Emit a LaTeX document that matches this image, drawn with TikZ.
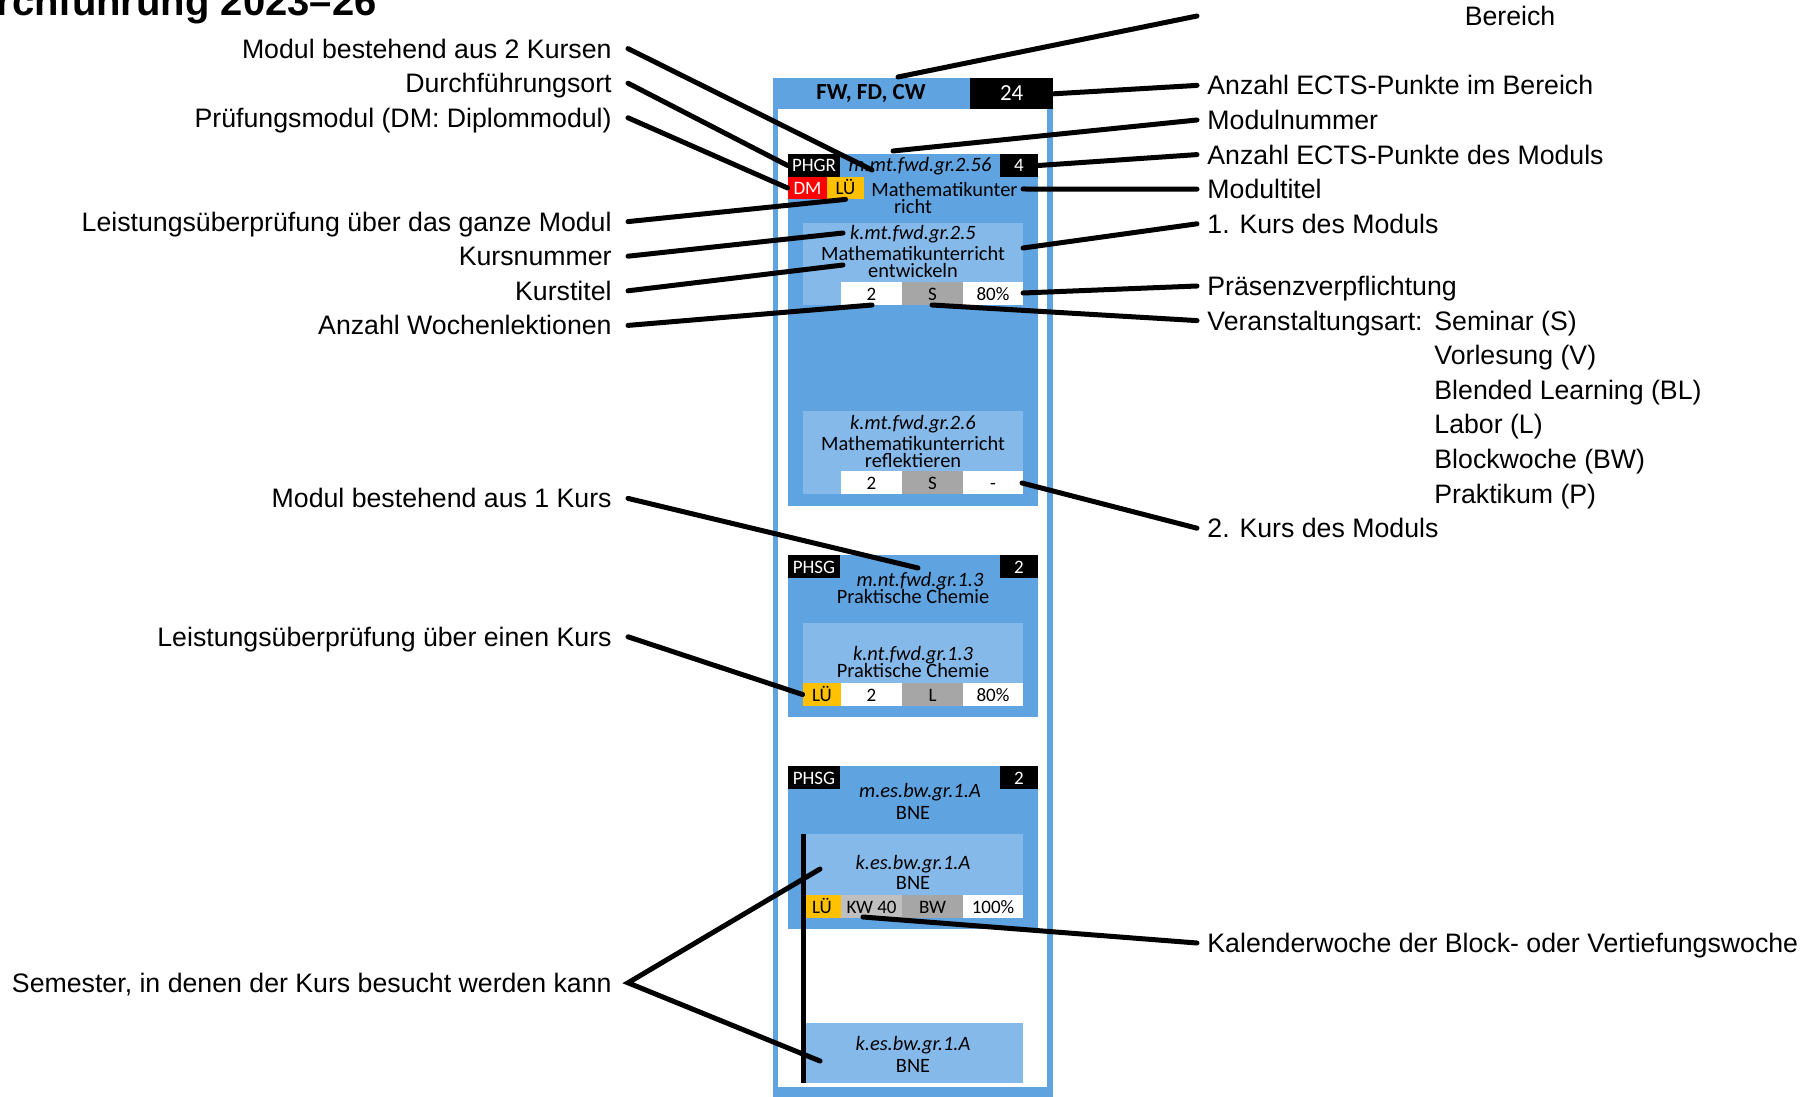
\documentclass[tikz,border=0pt]{standalone}
\usepackage{fontspec}
\setmainfont{Liberation Sans}
\newfontfamily\calibri{Carlito}

\definecolor{modulblau}{RGB}{95,163,224}
\definecolor{kursblau}{RGB}{133,185,234}
\definecolor{grau}{RGB}{166,166,166}
\definecolor{hellgrau}{RGB}{191,191,191}
\definecolor{lueorange}{RGB}{255,192,0}
\definecolor{dmrot}{RGB}{255,0,0}

\tikzset{
  beschr/.style={font=\fontsize{13.35}{16}\selectfont, inner ysep=0pt, text height=9.55pt, text depth=0pt},
  links/.style={beschr, anchor=east, inner xsep=8pt},
  rechts/.style={beschr, anchor=west, inner xsep=5pt},
  liste/.style={beschr, anchor=west, inner xsep=0pt},
  strich/.style={line width=2.5pt, line cap=round},
  ktext/.style={font=\calibri\fontsize{10.2}{12}\selectfont, inner sep=0pt, text height=6.5pt, text depth=0pt},
  knr/.style={ktext, font=\calibri\itshape\fontsize{10.2}{12}\selectfont},
  zelle/.style={ktext, font=\calibri\fontsize{9.5}{11}\selectfont, minimum height=11.5pt, minimum width=30.5pt},
  tag/.style={zelle, fill=black, text=white}
}

\begin{document}
\begin{tikzpicture}[x=0.5pt,y=-0.5pt]
\useasboundingbox (0,0) rectangle (1807,1096);
\clip (0,0) rectangle (1807,1096);

% title
\node[font=\bfseries\fontsize{20}{24}\selectfont, anchor=base east, inner sep=0pt] (titel) at (377,16) {Durchführung 2023–26};

% frame of the area
\fill[modulblau] (772.7,78.3) rectangle (1053.3,1100);
\fill[white] (778.3,109.3) rectangle (1047.3,1086.7);
\node[font=\calibri\bfseries\fontsize{11.5}{14}\selectfont, inner sep=0pt] (bereich) at (871,94) {FW, FD, CW};
\node[tag, font=\calibri\fontsize{11.5}{14}\selectfont, minimum width=41.7pt, minimum height=15.5pt] (ectsbereich) at (1011.7,93.8) {24};

% module 1
\fill[modulblau] (788,154) rectangle (1038,506);
\node[tag, minimum width=26pt] (m1ort) at (814,165.5) {PHGR};
\node[knr] (m1nr) at (920,165.5) {m.mt.fwd.gr.2.56};
\node[tag, minimum width=19pt] (m1ects) at (1019,165.5) {4};
\node[zelle, fill=dmrot, text=white, minimum width=19.5pt, minimum height=11pt] (m1dm) at (807.5,188) {DM};
\node[zelle, fill=lueorange, minimum width=18.5pt, minimum height=11pt] (m1lue) at (845.5,188) {LÜ};
\node[ktext, anchor=west] (m1titel) at (871,190) {Mathematikunter};
\node[ktext] (m1titelb) at (913,207) {richt};

% course 1
\fill[kursblau] (803,223) rectangle (1023,305);
\node[knr] (k1nr) at (913,233) {k.mt.fwd.gr.2.5};
\node[ktext] (k1titel) at (913,254) {Mathematikunterricht};
\node[ktext] (k1titelb) at (913,271) {entwickeln};
\node[zelle, fill=white] (k1lekt) at (871.5,293.5) {2};
\node[zelle, fill=grau] (k1art) at (932.5,293.5) {S};
\node[zelle, fill=white, minimum width=30pt] (k1praes) at (993,293.5) {80\%};

% course 2
\fill[kursblau] (803,411) rectangle (1023,494);
\node[knr] (k2nr) at (913,423) {k.mt.fwd.gr.2.6};
\node[ktext] (k2titel) at (913,444) {Mathematikunterricht};
\node[ktext] (k2titelb) at (913,461) {reflektieren};
\node[zelle, fill=white] (k2lekt) at (871.5,482.5) {2};
\node[zelle, fill=grau] (k2art) at (932.5,482.5) {S};
\node[zelle, fill=white, minimum width=30pt] (k2praes) at (993,482.5) {-};

% module 2
\fill[modulblau] (788,555) rectangle (1038,717);
\node[tag, minimum width=26pt] (m2ort) at (814,566.5) {PHSG};
\node[tag, minimum width=19pt] (m2ects) at (1019,566.5) {2};
\node[knr] (m2nr) at (920,580) {m.nt.fwd.gr.1.3};
\node[ktext] (m2titel) at (913,597) {Praktische Chemie};

% course 3
\fill[kursblau] (803,623) rectangle (1023,706);
\node[knr] (k3nr) at (913,654) {k.nt.fwd.gr.1.3};
\node[ktext] (k3titel) at (913,671) {Praktische Chemie};
\node[zelle, fill=lueorange, minimum width=19pt] (k3lue) at (822,694.5) {LÜ};
\node[zelle, fill=white] (k3lekt) at (871.5,694.5) {2};
\node[zelle, fill=grau] (k3art) at (932.5,694.5) {L};
\node[zelle, fill=white, minimum width=30pt] (k3praes) at (993,694.5) {80\%};

% module 3
\fill[modulblau] (788,766) rectangle (1038,929);
\node[tag, minimum width=26pt] (m3ort) at (814,777.5) {PHSG};
\node[tag, minimum width=19pt] (m3ects) at (1019,777.5) {2};
\node[knr] (m3nr) at (920,791) {m.es.bw.gr.1.A};
\node[ktext] (m3titel) at (913,813) {BNE};

% course 4
\fill[kursblau] (803,834) rectangle (1023,918);
\node[knr] (k4nr) at (913,863) {k.es.bw.gr.1.A};
\node[ktext] (k4titel) at (913,883) {BNE};
\node[zelle, fill=lueorange, minimum width=19pt] (k4lue) at (822,906.5) {LÜ};
\node[zelle, fill=hellgrau] (k4kw) at (871.5,906.5) {KW 40};
\node[zelle, fill=grau] (k4art) at (932.5,906.5) {BW};
\node[zelle, fill=white, minimum width=30pt] (k4praes) at (993,906.5) {100\%};

% course 5
\fill[kursblau] (803,1023) rectangle (1023,1083);
\node[knr] (k5nr) at (913,1044) {k.es.bw.gr.1.A};
\node[ktext] (k5titel) at (913,1066) {BNE};

% semester bar
\draw[line width=2.6pt] (803.3,834) -- (803.3,1083);

% labels left
\node[links] (lmod2) at (628,48.6) {Modul bestehend aus 2 Kursen};
\node[links] (lort) at (628,83.2) {Durchführungsort};
\node[links] (ldm) at (628,117.8) {Prüfungsmodul (DM: Diplommodul)};
\node[links] (llue) at (628,221.6) {Leistungsüberprüfung über das ganze Modul};
\node[links] (lknr) at (628,256.2) {Kursnummer};
\node[links] (lktitel) at (628,290.8) {Kurstitel};
\node[links] (llekt) at (628,325.4) {Anzahl Wochenlektionen};
\node[links] (lmod1) at (628,498.4) {Modul bestehend aus 1 Kurs};
\node[links] (lkurslue) at (628,636.8) {Leistungsüberprüfung über einen Kurs};
\node[links] (lsem) at (628,982.8) {Semester, in denen der Kurs besucht werden kann};

% labels right
\node[beschr, inner xsep=0pt] (lbereich) at (1510,16) {Bereich};
\node[rechts] (lectsb) at (1197,85.4) {Anzahl ECTS-Punkte im Bereich};
\node[rechts] (lmnr) at (1197,120) {Modulnummer};
\node[rechts] (lectsm) at (1197,154.6) {Anzahl ECTS-Punkte des Moduls};
\node[rechts] (lmtitel) at (1197,189.2) {Modultitel};
\node[rechts] (lkurs1) at (1197,223.8) {1. Kurs des Moduls};
\node[rechts] (lpraes) at (1197,286) {Präsenzverpflichtung};
\node[rechts] (lart) at (1197,320.6) {Veranstaltungsart:};
\node[liste] (lartS) at (1434,320.6) {Seminar (S)};
\node[liste] (lartV) at (1434,355.2) {Vorlesung (V)};
\node[liste] (lartBL) at (1434,389.8) {Blended Learning (BL)};
\node[liste] (lartL) at (1434,424.4) {Labor (L)};
\node[liste] (lartBW) at (1434,459) {Blockwoche (BW)};
\node[liste] (lartP) at (1434,493.6) {Praktikum (P)};
\node[rechts] (lkurs2) at (1197,528.2) {2. Kurs des Moduls};
\node[rechts] (lkw) at (1197,943) {Kalenderwoche der Block- oder Vertiefungswoche};

% ends of the connectors
\coordinate (bereichende) at (1197,16);
\coordinate (bereichoben) at (898,77);
\coordinate (m1nrlinks) at (872,170);
\coordinate (m1nroben) at (893,151);
\coordinate (m1titelende) at (1023,189);
\coordinate (k1nrlinks) at (843,233);
\coordinate (k1titellinks) at (843,265);
\coordinate (k1rand) at (1023,248);
\coordinate (k1lektunten) at (872,305);
\coordinate (k1artunten) at (932,305);
\coordinate (k1praesrand) at (1023,293);
\coordinate (k2praesrand) at (1022,483);
\coordinate (m2nroben) at (918,568);
\coordinate (k4kwunten) at (863,917);
\coordinate (k4sem) at (820,869);
\coordinate (k5sem) at (820,1061);

% connectors
\draw[strich] (lmod2.east) -- (m1nrlinks);
\draw[strich] (lort.east) -- (m1ort.west);
\draw[strich] (ldm.east) -- (m1dm.west);
\draw[strich] (llue.east) -- (m1lue.south);
\draw[strich] (lknr.east) -- (k1nrlinks);
\draw[strich] (lktitel.east) -- (k1titellinks);
\draw[strich] (llekt.east) -- (k1lektunten);
\draw[strich] (lmod1.east) -- (m2nroben);
\draw[strich] (lkurslue.east) -- (k3lue.west);
\draw[strich] (k4sem) -- (lsem.east) -- (k5sem);
\draw[strich] (bereichoben) -- (bereichende);
\draw[strich] (ectsbereich.east) -- (lectsb.west);
\draw[strich] (m1nroben) -- (lmnr.west);
\draw[strich] (m1ects.east) -- (lectsm.west);
\draw[strich] (m1titelende) -- (lmtitel.west);
\draw[strich] (k1rand) -- (lkurs1.west);
\draw[strich] (k1praesrand) -- (lpraes.west);
\draw[strich] (k1artunten) -- (lart.west);
\draw[strich] (k2praesrand) -- (lkurs2.west);
\draw[strich] (k4kwunten) -- (lkw.west);

\end{tikzpicture}
\end{document}
